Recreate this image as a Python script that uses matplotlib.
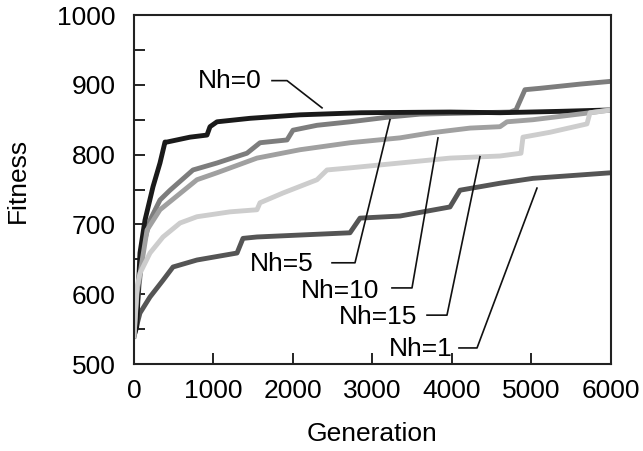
import matplotlib.pyplot as plt
from matplotlib.ticker import MultipleLocator

plt.rcParams['font.family'] = ['Liberation Sans', 'DejaVu Sans']

# values (generation, fitness)
gen_nh0 = [0, 34, 75, 138, 239, 327, 390, 415, 704, 918, 956, 1044, 1459, 2088, 2855, 3975, 4604, 5359, 6000]
fit_nh0 = [540, 553, 659, 706, 754, 788, 818, 818, 825, 828, 840, 847, 852, 857, 860, 861, 860, 862, 864]

gen_nh5 = [0, 38, 113, 201, 327, 453, 742, 1044, 1421, 1585, 1925, 2000, 2302, 2717, 3220, 3598, 4730, 4805, 4918, 5107, 5610, 6000]
fit_nh5 = [540, 582, 668, 706, 735, 749, 778, 788, 802, 817, 821, 835, 842, 847, 854, 858, 861, 864, 893, 895, 901, 905]

gen_nh10 = [0, 38, 164, 327, 792, 1044, 1547, 2088, 2717, 3346, 3723, 4227, 4604, 4692, 5019, 5736, 6000]
fit_nh10 = [540, 602, 692, 721, 764, 774, 795, 807, 817, 824, 831, 838, 840, 847, 850, 860, 864]

gen_nh15 = [0, 38, 75, 201, 365, 579, 792, 1208, 1547, 1585, 1874, 2302, 2428, 2717, 3346, 3975, 4604, 4868, 4893, 5233, 5698, 5736, 6000]
fit_nh15 = [540, 610, 630, 659, 682, 702, 711, 718, 721, 731, 745, 764, 778, 781, 788, 795, 798, 802, 825, 832, 844, 860, 864]

gen_nh1 = [0, 75, 201, 365, 491, 792, 1296, 1371, 1547, 2717, 2843, 3346, 3975, 4101, 4604, 5019, 6000]
fit_nh1 = [540, 573, 596, 620, 639, 649, 659, 680, 682, 688, 709, 712, 725, 749, 759, 766, 774]

# label text end (x, y) and leader line points
labels = ['Nh=0', 'Nh=5', 'Nh=10', 'Nh=15', 'Nh=1']
label_x = [1600, 2260, 3080, 3560, 4010]
label_y = [905, 643, 605, 567, 522]
leader_x = [[1736, 1925, 2365], [2491, 2780, 3220], [3245, 3497, 3824], [3686, 3937, 4352], [4088, 4315, 5069]]
leader_y = [[906, 906, 867], [645, 645, 850], [609, 609, 824], [570, 570, 797], [523, 523, 752]]

fig = plt.figure(figsize=(6.43, 4.51), dpi=100)
ax = fig.add_axes([0.2084, 0.1929, 0.7418, 0.7738])

lw = 3.5
ax.plot(gen_nh1, fit_nh1, color='#555555', lw=lw)
ax.plot(gen_nh5, fit_nh5, color='#7d7d7d', lw=lw)
ax.plot(gen_nh0, fit_nh0, color='#1a1a1a', lw=lw)
ax.plot(gen_nh10, fit_nh10, color='#a0a0a0', lw=lw)
ax.plot(gen_nh15, fit_nh15, color='#cdcdcd', lw=lw)

for i in range(len(labels)):
    ax.plot(leader_x[i], leader_y[i], color='#111111', lw=1.2)
    ax.text(label_x[i], label_y[i], labels[i], ha='right', va='center', fontsize=19)

ax.set_xlim(0, 6000)
ax.set_ylim(500, 1000)
ax.xaxis.set_major_locator(MultipleLocator(1000))
ax.yaxis.set_major_locator(MultipleLocator(100))
ax.yaxis.set_minor_locator(MultipleLocator(50))
ax.tick_params(which='both', direction='in', length=8, width=1.2, labelsize=19)
ax.tick_params(axis='y', which='both', pad=13)
ax.tick_params(axis='x', pad=11)
ax.tick_params(axis='x', which='minor', length=0)
for s in ax.spines.values():
    s.set_linewidth(1.5)
    s.set_color('#222222')

fig.text(372 / 643, 1 - 434 / 451, 'Generation', ha='center', va='center', fontsize=19)
fig.text(18 / 643, 1 - 180 / 451, 'Fitness', ha='center', va='center', rotation=90, fontsize=19)

plt.savefig('out.png')
